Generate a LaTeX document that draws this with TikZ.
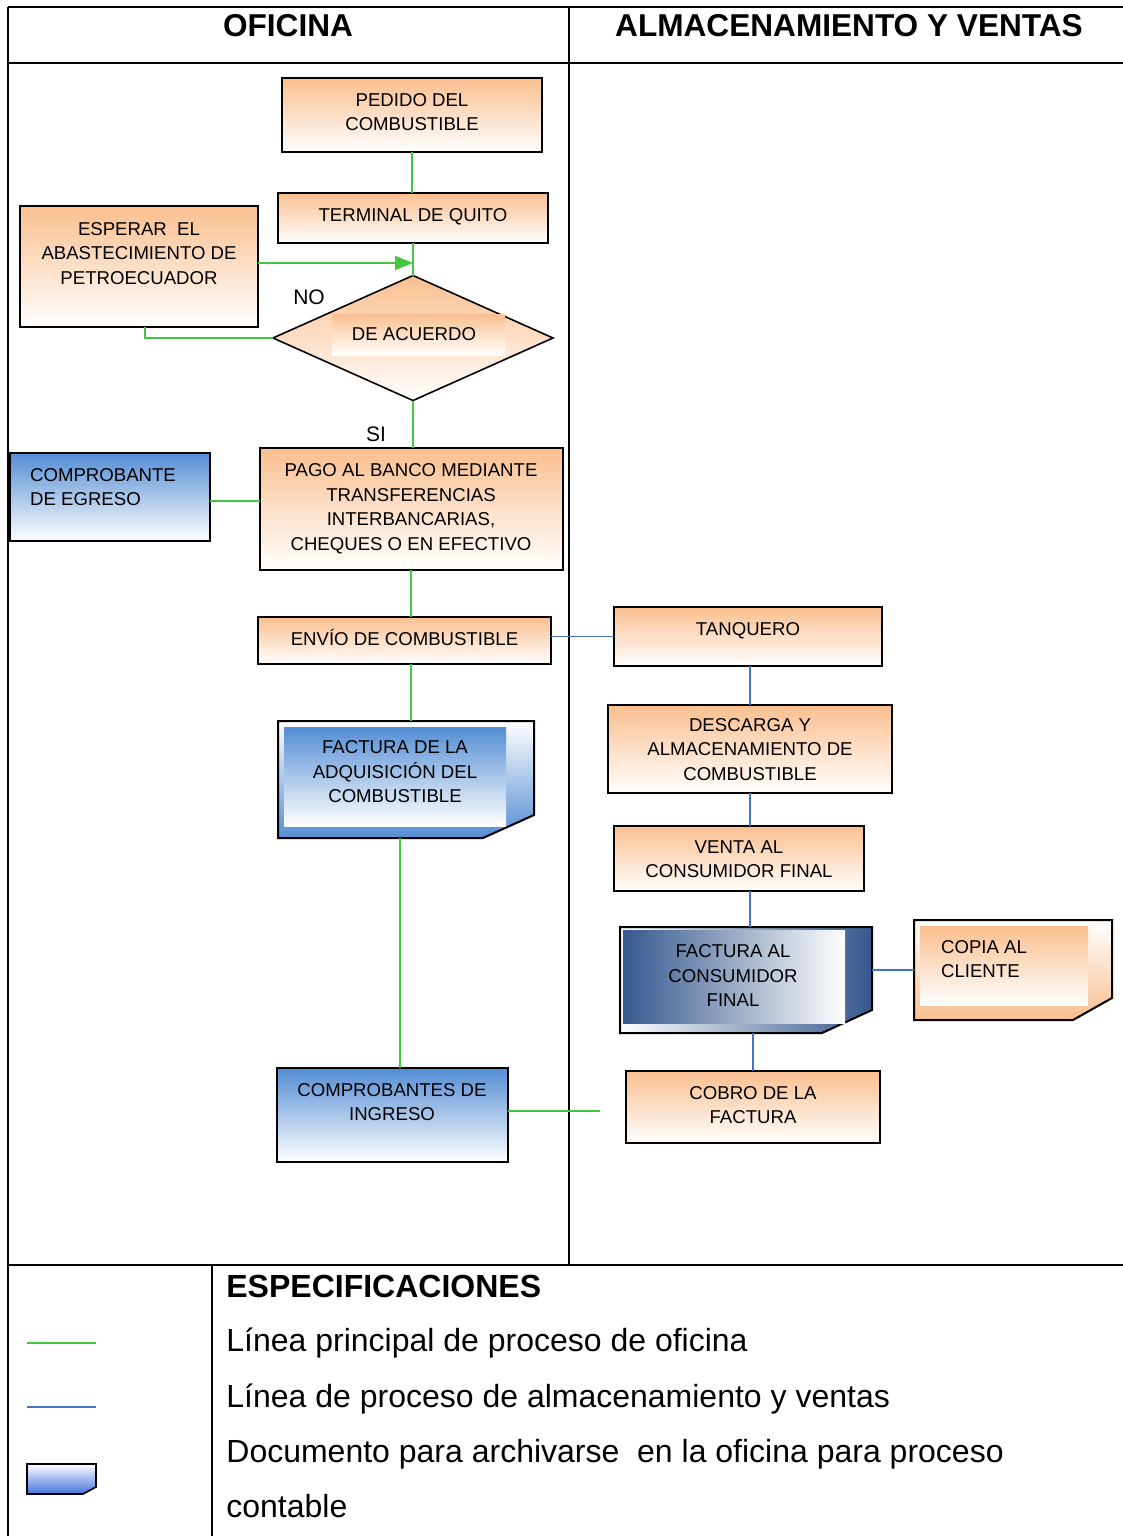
\documentclass[tikz,border=0pt]{standalone}
\usepackage{fontspec}
\setmainfont{Liberation Sans}
\usepackage{xcolor}
\usepackage{tikz}
\usetikzlibrary{arrows.meta,calc,positioning,shapes.geometric,backgrounds}
\definecolor{naranja}{RGB}{250,191,143}
\definecolor{azul}{RGB}{84,141,212}
\definecolor{marino}{RGB}{54,88,142}
\definecolor{verde}{RGB}{64,201,64}
\definecolor{linea}{RGB}{68,114,196}

% texto subido dentro de la caja, sin cambiar su tamano
\newcommand{\lift}[3][c]{\raisebox{#2}[\height][\depth]{\begin{tabular}{@{}#1@{}}#3\end{tabular}}}

\begin{document}
\begin{tikzpicture}[x=0.5pt, y=-0.5pt,
    txt/.style={font=\fontsize{9.3}{12.25}\selectfont, align=center},
    obox/.style={txt, draw=black, line width=1pt, top color=naranja, bottom color=white, inner sep=0pt, outer sep=0pt},
    bbox/.style={obox, top color=azul, bottom color=white},
    doc/.style={txt, inner sep=0pt, outer sep=0pt},
    decision/.style={diamond, draw=black, line width=0.8pt, top color=naranja, bottom color=white, inner sep=0pt, outer sep=0pt},
    gline/.style={draw=verde, line width=0.9pt},
    bline/.style={draw=linea, line width=0.9pt},
    frame/.style={line width=1pt},
    head/.style={font=\bfseries\fontsize{15.8}{18}\selectfont},
    tag/.style={font=\fontsize{10.5}{12}\selectfont},
    legtxt/.style={font=\fontsize{16}{20}\selectfont, anchor=base west, inner sep=0pt}]
  \useasboundingbox (0,0) rectangle (1123,1536);

  % marco y carriles
  \draw[frame] (8,7) -- (1123,7);
  \draw[frame] (8,7) -- (8,1536);
  \draw[frame] (8,63) -- (1123,63);
  \draw[frame] (569,7) -- (569,1265);
  \draw[frame] (8,1265) -- (1123,1265);
  \draw[frame] (212,1265) -- (212,1536);
  \node[head] (hdrOficina) at (288,26) {OFICINA};
  \node[head] (hdrAlmacen) at (849,26) {ALMACENAMIENTO Y VENTAS};

  % oficina
  \node[obox, minimum width=130pt, minimum height=37pt] (pedido) at (412,115) {\lift{0.75pt}{PEDIDO DEL\\COMBUSTIBLE}};
  \node[obox, minimum width=135pt, minimum height=25pt] (terminal) at (413,218) {\lift{0.75pt}{TERMINAL DE QUITO}};
  \node[obox, minimum width=119pt, minimum height=60.5pt] (esperar) at (139,266.5) {\lift{5.75pt}{ESPERAR~ EL\\ABASTECIMIENTO DE\\PETROECUADOR}};
  \node[decision, minimum width=140pt, minimum height=62.5pt] (acuerdo) at (413,338) {};
  \node[txt, top color=naranja, bottom color=white, minimum width=86.5pt, minimum height=20.5pt, inner sep=0pt] (acuerdoTxt) at (418.5,334.5) {\hspace*{-4.5pt}DE ACUERDO};
  \node[tag] (lblNo) at (309,297) {NO};
  \node[tag] (lblSi) at (376,434) {SI};
  \node[obox, minimum width=151.5pt, minimum height=61pt] (pago) at (411,509) {\lift{0.25pt}{PAGO AL BANCO MEDIANTE\\TRANSFERENCIAS\\INTERBANCARIAS,\\CHEQUES O EN EFECTIVO}};
  \node[bbox, minimum width=100pt, minimum height=44pt] (egreso) at (110,497) {\hspace*{-7pt}\lift[l]{4.25pt}{COMPROBANTE\\DE EGRESO}};
  \node[obox, minimum width=146.5pt, minimum height=23.5pt] (envio) at (404.5,640.5) {\lift{0pt}{ENVÍO DE COMBUSTIBLE}};
  \node[doc, minimum width=128pt, minimum height=58.5pt] (factAdq) at (406,779.5) {\hspace*{-11pt}\lift{3pt}{FACTURA DE LA\\ADQUISICIÓN DEL\\COMBUSTIBLE}};
  \node[bbox, minimum width=115.5pt, minimum height=47pt] (ingreso) at (392,1115) {\lift{5.75pt}{COMPROBANTES DE\\INGRESO}};

  % almacenamiento y ventas
  \node[obox, minimum width=134pt, minimum height=29.5pt] (tanquero) at (748,636.5) {\lift{3pt}{TANQUERO}};
  \node[obox, minimum width=142pt, minimum height=44pt] (descarga) at (750,749) {\lift{-1pt}{DESCARGA Y\\ALMACENAMIENTO DE\\COMBUSTIBLE}};
  \node[obox, minimum width=125pt, minimum height=32.5pt] (venta) at (739,858.5) {\lift{-1pt}{VENTA AL\\CONSUMIDOR FINAL}};
  \node[doc, minimum width=126pt, minimum height=53pt] (factCons) at (746,980) {\hspace*{-13pt}\lift{1.25pt}{FACTURA AL\\CONSUMIDOR\\FINAL}};
  \node[doc, minimum width=99pt, minimum height=50pt] (copia) at (1013,970) {\hspace*{-29pt}\lift[l]{4.75pt}{COPIA AL\\CLIENTE}};
  \node[obox, minimum width=127pt, minimum height=36pt] (cobro) at (753,1107) {\lift{0.25pt}{COBRO DE LA\\FACTURA}};

  % documentos con esquina doblada
  \begin{scope}[on background layer]
    \shade[top color=white, bottom color=azul, draw=black, line width=1pt]
      (factAdq.north west) -- (factAdq.north east) -- ($(factAdq.south east)+(0,-23)$)
      -- ($(factAdq.south east)+(-51,0)$) -- (factAdq.south west) -- cycle;
    \shade[top color=azul, bottom color=white]
      ($(factAdq.north west)+(6,6)$) rectangle ($(factAdq.south east)+(-28,-12)$);
    \shade[left color=white, right color=marino, draw=black, line width=1pt]
      (factCons.north west) -- (factCons.north east) -- ($(factCons.south east)+(0,-23)$)
      -- ($(factCons.south east)+(-50,0)$) -- (factCons.south west) -- cycle;
    \shade[left color=marino, right color=white]
      ($(factCons.north west)+(3,3)$) rectangle ($(factCons.south east)+(-27,-10)$);
    \shade[top color=white, bottom color=naranja, draw=black, line width=1pt]
      (copia.north west) -- (copia.north east) -- ($(copia.south east)+(0,-22)$)
      -- ($(copia.south east)+(-39,0)$) -- (copia.south west) -- cycle;
    \shade[top color=naranja, bottom color=white]
      ($(copia.north west)+(6,6)$) rectangle ($(copia.south east)+(-24,-15)$);
  \end{scope}

  % lineas de oficina
  \coordinate (noJoin) at (413,263);
  \coordinate (cobroIn) at (600,1111);
  \draw[gline] (pedido.south) -- (pedido.south |- terminal.north);
  \draw[gline] (terminal.south) -- (acuerdo.north);
  \draw[gline, -{Triangle[length=9pt,width=7pt]}] (esperar.east |- noJoin) -- (noJoin);
  \draw[gline] ([xshift=3pt]esperar.south) |- (acuerdo.west);
  \draw[gline] (acuerdo.south) -- (acuerdo.south |- pago.north);
  \draw[gline] ([yshift=-2pt]egreso.east) -- ([yshift=-2pt]egreso.east -| pago.west);
  \draw[gline] (pago.south) -- (envio.north -| pago.south);
  \draw[gline] (envio.south -| pago.south) -- (factAdq.north -| pago.south);
  \draw[gline] ([xshift=4pt]ingreso.north) -- ([xshift=4pt]ingreso.north |- factAdq.south);
  \draw[gline] (ingreso.east |- cobroIn) -- (cobroIn);

  % lineas de almacenamiento y ventas
  \draw[bline] (envio.east |- tanquero.west) -- (tanquero.west);
  \draw[bline] (descarga.north) -- (descarga.north |- tanquero.south);
  \draw[bline] (descarga.south) -- (descarga.south |- venta.north);
  \draw[bline] (venta.south -| descarga.south) -- (factCons.north -| descarga.south);
  \draw[bline] (factCons.east |- copia.west) -- (copia.west);
  \draw[bline] (cobro.north) -- (cobro.north |- factCons.south);

  % especificaciones
  \node[legtxt, font=\bfseries\fontsize{16}{20}\selectfont] (legTitle) at (226,1297) {ESPECIFICACIONES};
  \node[legtxt] (legVerde) at (226,1351) {Línea principal de proceso de oficina};
  \node[legtxt] (legAzul) at (226,1407) {Línea de proceso de almacenamiento y ventas};
  \node[legtxt] (legDoc) at (226,1462) {Documento para archivarse~ en la oficina para proceso};
  \node[legtxt] (legDoc2) at (226,1517) {contable};
  \draw[gline] (27,1343) -- (96,1343);
  \draw[bline] (27,1407) -- (96,1407);
  \shade[top color=white, bottom color=azul!80!blue, draw=black, line width=0.8pt]
    (27,1464) -- (96,1464) -- (96,1487) -- (83,1494) -- (27,1494) -- cycle;
\end{tikzpicture}
\end{document}
